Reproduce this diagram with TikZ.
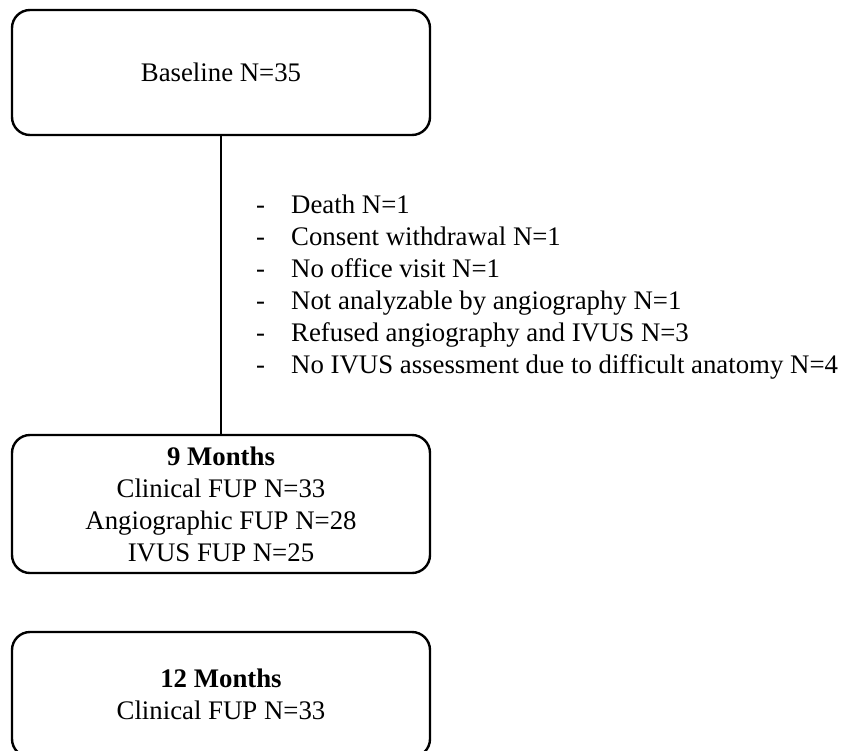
\documentclass[tikz,border=0pt]{standalone}
\usepackage{fontspec}
\setmainfont{Liberation Serif}
\begin{document}
\begin{tikzpicture}[x=1pt,y=-1pt, line join=round, line cap=round,
	font=\fontsize{26.8}{32}\selectfont,
	box/.style={draw, line width=2.4pt, rounded corners=18pt, minimum width=418pt, align=center, inner sep=0pt}]
	\useasboundingbox (0,0) rectangle (845,750);
	\path
	(221,72.5)coordinate(B)
	(221,504)coordinate(M9)
	(221,694.5)coordinate(M12)
	(256,213)coordinate(D)
	(291,213)coordinate(L)
	;
	\node[box, minimum height=125pt] (base) at (B) {Baseline N=35};
	\node[box, minimum height=138pt] (nine) at (M9) {\textbf{9 Months}\\Clinical FUP N=33\\Angiographic FUP N=28\\IVUS FUP N=25};
	\node[box, minimum height=125pt] (twelve) at (M12) {\textbf{12 Months}\\Clinical FUP N=33};
	\draw[line width=1.8pt] (base) -- (nine);
	\foreach \t [count=\i from 0] in {Death N=1,Consent withdrawal N=1,No office visit N=1,Not analyzable by angiography N=1,Refused angiography and IVUS N=3,No IVUS assessment due to difficult anatomy N=4}
	{\node[anchor=base west, inner sep=0pt] (dash\i) at ([yshift=-32*\i]D) {-};
	\node[anchor=base west, inner sep=0pt] (item\i) at ([yshift=-32*\i]L) {\t};}
\end{tikzpicture}
\end{document}
